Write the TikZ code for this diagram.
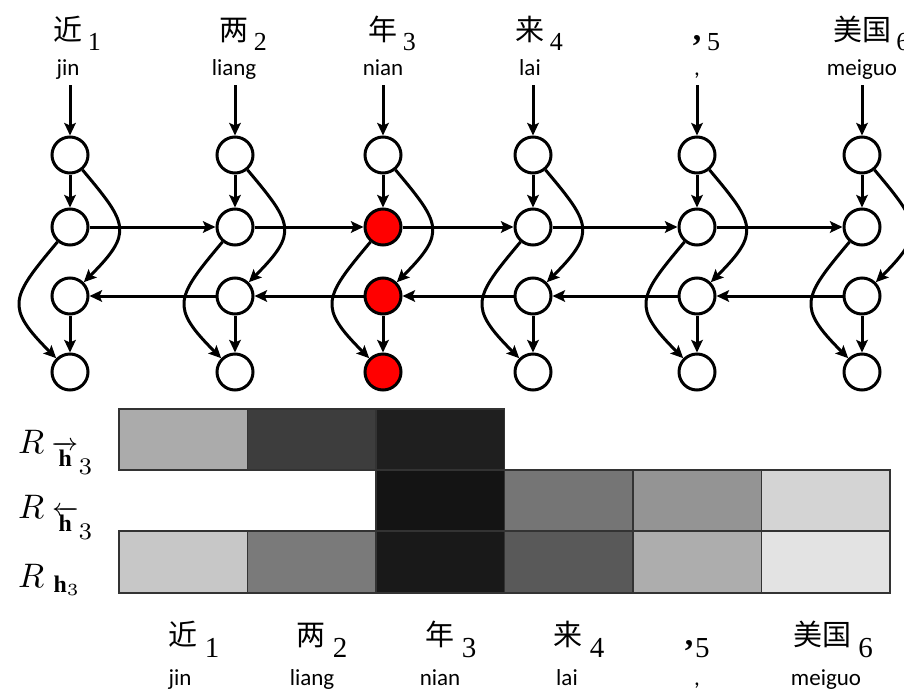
\documentclass[tikz,border=0pt]{standalone}
\usepackage{amsmath}
\usepackage{graphicx}
\usepackage{fontspec}
\setmainfont{Liberation Serif}
\newfontfamily\cjk{Noto Sans CJK SC}
\newfontfamily\pyfont{Carlito}
\usetikzlibrary{arrows.meta}
\begin{document}
\begin{tikzpicture}[x=1pt,y=1pt,
  netnode/.style={circle,draw,line width=3pt,minimum size=36pt,inner sep=0pt,fill=white},
  hotnode/.style={netnode,fill=red},
  arr/.style={line width=3pt,-{Stealth[length=12.5pt,width=11.5pt,inset=2.5pt]}},
  wordtop/.style={anchor=base,inner sep=0pt,font=\fontsize{29}{30}\selectfont\cjk},
  subtop/.style={anchor=base west,inner sep=0pt,font=\fontsize{26}{28}\selectfont},
  subbot/.style={anchor=base west,inner sep=0pt,font=\fontsize{29}{30}\selectfont},
  commabox/.style={anchor=base,inner sep=0pt,font=\fontsize{34}{36}\selectfont\bfseries},
  pinyin/.style={anchor=base,inner sep=0pt,font=\fontsize{23}{24}\selectfont\pyfont},
  rlab/.style={anchor=base west,inner sep=0pt},
  cellbox/.style={draw=black!80,line width=1.4pt}
]
\useasboundingbox (0,0) rectangle (904,-688);

% heat map
\foreach \k/\g in {1/33,2/76,3/88}
  \draw[cellbox,fill=black!\g] ({119+(\k-1)*128.5},-409) rectangle ({119+\k*128.5},-470);
\foreach \k/\g in {3/92,4/54,5/42,6/17}
  \draw[cellbox,fill=black!\g] ({119+(\k-1)*128.5},-470) rectangle ({119+\k*128.5},-531);
\foreach \k/\g in {1/22,2/52,3/90,4/65,5/32,6/11}
  \draw[cellbox,fill=black!\g] ({119+(\k-1)*128.5},-531) rectangle ({119+\k*128.5},-593);

% row labels
\node[rlab] (r1) at (18,-453) {\scalebox{3.4}{$R\mkern4mu{}_{\overrightarrow{\mathbf{h}}_{\scriptstyle 3}}$}};
\node[rlab] (r2) at (18,-518) {\scalebox{3.4}{$R\mkern4mu{}_{\overleftarrow{\mathbf{h}}_{\scriptstyle 3}}$}};
\node[rlab] (r3) at (18,-587) {\scalebox{3.4}{$R\mkern5mu{}_{\mathbf{h}_3}$}};

% network nodes
\foreach \i/\x/\s in {1/70/netnode,2/235/netnode,3/383/hotnode,4/533/netnode,5/697/netnode,6/862/netnode} {
  \coordinate (t\i) at (\x,-85);
  \node[netnode] (a\i) at (\x,-155) {};
  \node[\s] (b\i) at (\x,-227) {};
  \node[\s] (c\i) at (\x,-296) {};
  \node[\s] (d\i) at (\x,-372) {};
  \draw[arr] (t\i) -- (a\i);
  \draw[arr] (a\i) -- (b\i);
  \draw[arr] (c\i) -- (d\i);
  \draw[arr] (a\i) to[out=-50,in=45,looseness=1.6] (c\i);
  \draw[arr] (b\i) to[out=-130,in=135,looseness=1.6] (d\i);
}
\foreach \i/\j in {1/2,2/3,3/4,4/5,5/6} {
  \draw[arr] (b\i) -- (b\j);
  \draw[arr] (c\j) -- (c\i);
}

% top labels
\foreach \i/\x/\w/\n/\p in {1/68/近/1/jin,2/234/两/2/liang,3/383/年/3/nian,4/530/来/4/lai,6/862/美国/6/meiguo} {
  \node[wordtop] (w\i) at (\x,-40) {\w};
  \node[subtop] (s\i) at ([xshift=5pt,yshift=-10pt]w\i.base east) {\n};
  \node[pinyin] (p\i) at (\x,-75) {\p};
}
\node[commabox] (w5) at (697,-40) {,};
\node[subtop] (s5) at (707,-50) {5};
\node[pinyin] (p5) at (697,-75) {,};

% bottom labels
\foreach \i/\x/\px/\w/\n/\p in {1/183/180/近/1/jin,2/311/312/两/2/liang,3/440/440/年/3/nian,4/568/567/来/4/lai,6/822/826/美国/6/meiguo} {
  \node[wordtop] (bw\i) at (\x,-645) {\w};
  \node[subbot] (bs\i) at ([xshift=7pt,yshift=-12pt]bw\i.base east) {\n};
  \node[pinyin] (bp\i) at (\px,-685) {\p};
}
\node[commabox] (bw5) at (689,-645) {,};
\node[subbot] (bs5) at (695,-657) {5};
\node[pinyin] (bp5) at (697,-685) {,};
\end{tikzpicture}
\end{document}
